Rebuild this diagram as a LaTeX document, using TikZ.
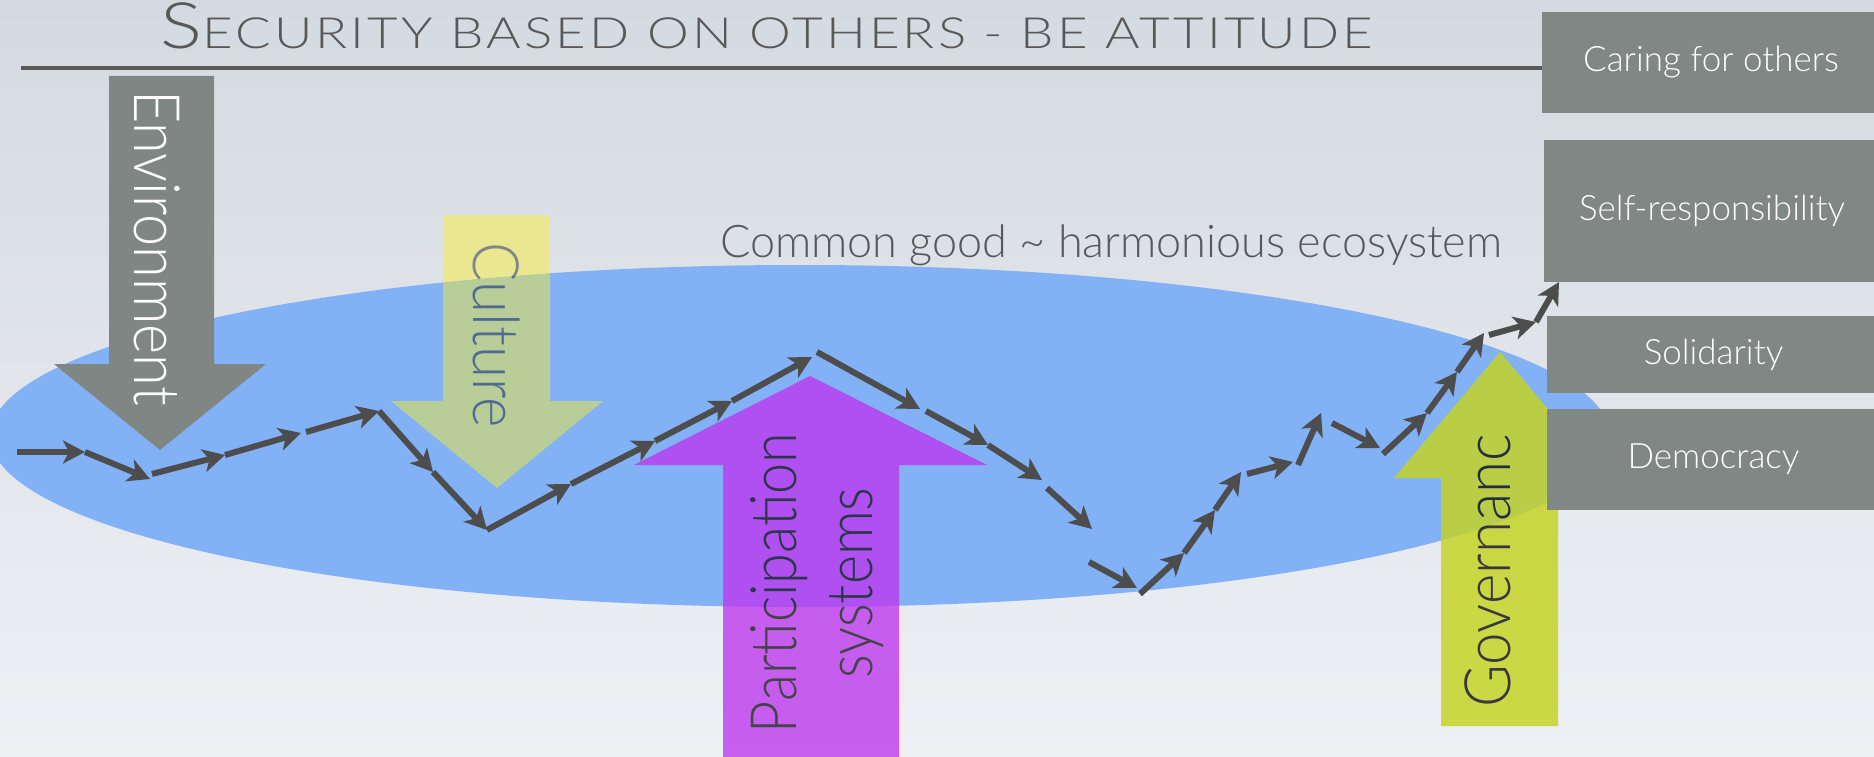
\documentclass[tikz,border=0pt]{standalone}
\usepackage{fontspec}
\setmainfont{Lato}[UprightFont={* Light}]
\newfontfamily\titlefont{Lato}[UprightFont={* Light}, LetterSpace=6, WordSpace=1.0]
\usetikzlibrary{arrows.meta}
\definecolor{bgtop}{RGB}{212,218,225}
\definecolor{bgbot}{RGB}{238,240,244}
\definecolor{ellblue}{RGB}{130,177,245}
\definecolor{envgray}{RGB}{128,134,131}
\definecolor{boxgray}{RGB}{129,135,132}
\definecolor{culyellow}{RGB}{250,240,40}
\definecolor{partpurple}{RGB}{189,53,239}
\definecolor{govgreen}{RGB}{197,212,35}
\definecolor{pathgray}{RGB}{77,77,77}
\definecolor{titlegray}{RGB}{88,88,88}
\definecolor{darktext}{RGB}{20,20,25}
\begin{document}
\begin{tikzpicture}[x=1pt,y=-1pt,
  box/.style={fill=boxgray, text=white, inner sep=0pt, font=\fontsize{35}{35}\selectfont},
  flow/.style={draw=pathgray, line width=6pt, -{Stealth[length=22pt,width=23pt,inset=6pt]}},
  bigtext/.style={font=\fontsize{64}{64}\selectfont, inner sep=0pt},
]
\useasboundingbox (0,0) rectangle (1874,757);
\begin{scope}
\clip (0,0) rectangle (1874,757);
% background
\shade[top color=bgtop, bottom color=bgbot] (0,0) rectangle (1874,757);
% ecosystem ellipse
\fill[ellblue] (800,436) ellipse [x radius=810, y radius=171];
% title
\node[anchor=base west, inner sep=0pt, text=titlegray] (title) at (160,49)
  {\resizebox{1213pt}{\height}{\titlefont{\fontsize{64}{64}\selectfont S}{\fontsize{43}{43}\selectfont ECURITY BASED ON OTHERS - BE ATTITUDE}}};
\coordinate (ruleL) at (21,68);
% right boxes
\node[box, minimum width=338, minimum height=101] (care) at (1711,62.5) {Caring for others};
\node[box, minimum width=336, minimum height=142] (self) at (1712,211) {Self-responsibility};
\draw[titlegray, line width=4pt] (ruleL) -- (ruleL -| care.west);
% common good label
\node[anchor=base west, inner sep=0pt, text=titlegray, font=\fontsize{45}{45}\selectfont] (common) at (720,257) {Common good \textasciitilde{} harmonious ecosystem};
% Environment arrow
\fill[envgray] (109,76) -- (214,76) -- (214,364) -- (266,364) -- (160,450) -- (54,364) -- (109,364) -- cycle;
\node[bigtext, text=white, rotate=-90, anchor=base] (env) at (134,248) {\scalebox{0.9}[1]{Environment}};
% Culture arrow
\begin{scope}[transparency group, opacity=0.45]
\fill[culyellow] (443,215) -- (550,215) -- (550,401) -- (603,401) -- (497,488) -- (391,401) -- (443,401) -- cycle;
\node[bigtext, text=darktext, rotate=-90, anchor=base] (cul) at (473,335) {\scalebox{0.91}[1]{Culture}};
\end{scope}
% Participation arrow
\begin{scope}[transparency group, opacity=0.78]
\fill[partpurple] (723,757) -- (723,465) -- (634,465) -- (810,376) -- (987,465) -- (899,465) -- (899,757) -- cycle;
\node[bigtext, text=darktext, rotate=90, anchor=base] (partA) at (796,583) {\scalebox{0.87}[1]{Participation}};
\node[bigtext, text=darktext, rotate=90, anchor=base] (partB) at (872,583) {\scalebox{0.87}[1]{systems}};
\end{scope}
% Governance arrow
\begin{scope}[transparency group, opacity=0.83]
\fill[govgreen] (1441,726) -- (1441,478) -- (1394,478) -- (1500,352) -- (1606,478) -- (1558,478) -- (1558,726) -- cycle;
\node[bigtext, text=darktext, rotate=90, anchor=base] (gov) at (1510,571) {\scalebox{0.91}[1]{Governanc}};
\end{scope}
% boxes covering ellipse and governance head
\node[box, minimum width=333, minimum height=77] (soli) at (1713.5,354.5) {Solidarity};
\node[box, minimum width=333, minimum height=101] (demo) at (1713.5,459.5) {Democracy};
% zigzag path points
\coordinate (a0) at (17,452);
\coordinate (a1) at (85,452);
\coordinate (a2) at (150,479);
\coordinate (a3) at (152,474);
\coordinate (a4) at (225,455);
\coordinate (a5) at (301,433);
\coordinate (a6) at (306,432);
\coordinate (a7) at (379,411);
\coordinate (a8) at (433,472);
\coordinate (a9) at (487,530);
\coordinate (a10) at (571,484);
\coordinate (a11) at (655,441);
\coordinate (a12) at (732,401);
\coordinate (a13) at (812,357);
\coordinate (a14) at (817,352);
\coordinate (a15) at (920,409);
\coordinate (a16) at (926,411);
\coordinate (a17) at (988,445);
\coordinate (a18) at (1042,480);
\coordinate (a19) at (1047,488);
\coordinate (a20) at (1092,529);
\coordinate (a21) at (1089,562);
\coordinate (a22) at (1137,588);
\coordinate (a23) at (1140,594);
\coordinate (a24) at (1184,553);
\coordinate (a25) at (1215,510);
\coordinate (a26) at (1241,472);
\coordinate (a27) at (1247,474);
\coordinate (a28) at (1293,462);
\coordinate (a29) at (1298,465);
\coordinate (a30) at (1321,413);
\coordinate (a31) at (1332,423);
\coordinate (a32) at (1380,448);
\coordinate (a33) at (1383,454);
\coordinate (a34) at (1427,413);
\coordinate (a35) at (1457,372);
\coordinate (a36) at (1484,333);
\coordinate (a37) at (1489,335);
\coordinate (a38) at (1536,322);
\coordinate (a39) at (1559,282);
\foreach \s/\e in {a0/a1,a1/a2,a3/a4,a4/a5,a6/a7,a7/a8,a8/a9,a9/a10,a10/a11,a11/a12,a12/a13,
  a14/a15,a16/a17,a17/a18,a19/a20,a21/a22,a23/a24,a24/a25,a25/a26,a27/a28,a29/a30,a31/a32,
  a33/a34,a34/a35,a35/a36,a37/a38,a38/a39}
  \draw[flow] (\s) -- (\e);
\end{scope}
\end{tikzpicture}
\end{document}
